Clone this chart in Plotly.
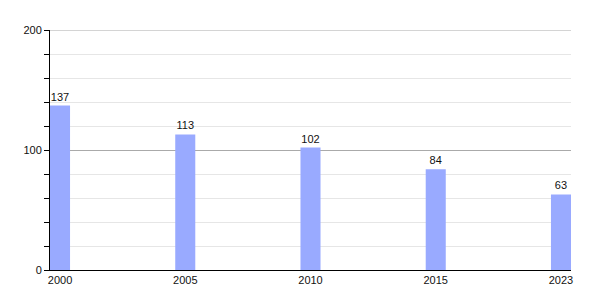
import plotly.graph_objects as go

years = ["2000", "2005", "2010", "2015", "2023"]
values = [137, 113, 102, 84, 63]

fig = go.Figure(go.Bar(
    x=years, y=values, text=[str(v) for v in values],
    textposition="outside", cliponaxis=False,
    textfont=dict(size=11, color="#111"),
    marker=dict(color="#99aaff", line=dict(width=0)),
    width=0.16,
))
fig.update_layout(
    width=600, height=300,
    margin=dict(l=50, r=29, t=30, b=30),
    paper_bgcolor="white", plot_bgcolor="white",
    font=dict(family="Liberation Sans, Arial, sans-serif", size=11, color="#111"),
    showlegend=False,
)
fig.add_shape(type="line", xref="paper", x0=0, x1=1, yref="y", y0=200, y1=200,
              line=dict(color="#aaaaaa", width=1), layer="below")
fig.update_xaxes(
    type="category", range=[-0.08, 4.08],
    showline=True, linecolor="black", linewidth=1,
    ticks="", showgrid=False, ticklabelstandoff=0,
)
fig.update_yaxes(
    range=[0, 200], dtick=100, tick0=0,
    showline=True, linecolor="black", linewidth=1,
    ticks="outside", ticklen=5, tickcolor="black",
    showgrid=True, gridcolor="#aaaaaa", gridwidth=1,
    minor=dict(dtick=20, showgrid=True, gridcolor="#e6e6e6", ticks="outside", ticklen=5, tickcolor="black"),
    zeroline=False,
)
fig.write_html("out.html")
